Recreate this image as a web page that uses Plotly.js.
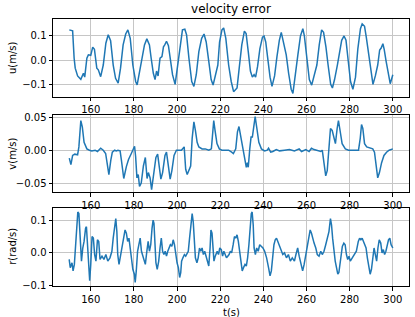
<!DOCTYPE html>
<html>
<head>
<meta charset="utf-8">
<script src="https://cdn.plot.ly/plotly-3.0.1.min.js"></script>
<style>html,body{margin:0;padding:0;background:#fff;}#chart{width:415px;height:317px;}</style>
</head>
<body>
<div id="chart"></div>
<script>
// u(m/s)
const uT = [150.05,151.6,152.3,152.8,153.9,155.4,156.6,157.2,158.2,158.9,160,160.9,161.7,162.8,163.5,164.6,165.8,167,168.1,169.2,170.4,171.5,172.7,173.8,175,176.2,177.2,178.3,179.5,180.8,181.5,182.6,183.8,184.9,186,187.2,188,189,189.8,190.5,191.2,192.1,193,193.7,194.3,195.1,196,196.8,197.9,199.1,200.2,201.3,202.5,203.6,204.4,205.5,206.8,207.8,208.9,210.1,211.4,212.5,213.5,214.7,215.8,216.7,217.8,218.9,219.7,220.8,221.6,222.6,223.9,225.1,226.2,226.9,227.8,228.8,230,231.2,232,233,234,234.9,235.7,236.4,237.3,238.4,239.6,240.3,241.1,242.2,243.1,244,245.2,246.3,247.4,248.3,249.2,250.6,251.7,252.9,253.7,254.7,256,257.2,258.3,259,260.1,261.3,262.4,263.6,264.8,265.9,267,267.9,269,270,271.2,272,273,274.3,275.5,276.3,277.4,278.3,279.2,280.4,281.5,282.7,283.8,285,285.8,286.9,287.7,288.8,289.9,290.8,291.9,293,293.9,294.6,295.4,296,296.9,297.9,298.8,300];
const uV = [0.125,0.121,0.008,-0.033,-0.065,-0.079,-0.054,-0.07,0.008,0.022,0.02,0.054,0.045,-0.033,-0.04,-0.068,-0.02,0.07,0.105,0.08,-0.02,-0.075,-0.095,-0.033,0.063,0.108,0.125,0.09,-0.02,-0.088,-0.102,-0.045,0.008,0.063,0.088,0.063,0.008,-0.054,-0.08,-0.045,-0.065,0.008,0.015,0.055,0.063,0.078,0.06,0.008,-0.06,-0.1,-0.02,0.063,0.125,0.128,0.105,0.008,-0.088,-0.108,-0.06,0.035,0.09,0.108,0.075,-0.005,-0.08,-0.103,-0.06,-0.02,0.075,0.125,0.133,0.09,-0.02,-0.088,-0.13,-0.125,-0.115,-0.033,0.063,0.12,0.11,0.035,-0.045,-0.07,-0.06,-0.07,-0.027,0.048,0.095,0.1,0.075,-0.005,-0.07,-0.108,-0.065,0.015,0.082,0.115,0.082,0.022,-0.054,-0.12,-0.137,-0.06,0.022,0.1,0.13,0.1,0.008,-0.08,-0.103,-0.065,-0.02,0.063,0.125,0.115,0.055,-0.02,-0.1,-0.115,-0.08,-0.02,0.048,0.082,0.1,0.082,0.008,-0.088,-0.12,-0.07,0.048,0.13,0.15,0.14,0.095,0.022,-0.06,-0.1,-0.065,-0.02,0.042,0.05,0.068,0.045,-0.005,-0.06,-0.097,-0.06];

// v(m/s)
const vT = [150.05,150.8,151.6,152.6,153.9,154.5,155.4,156.1,156.9,158.2,159.4,160.5,162,163.1,164.6,165.8,166.9,167.6,168.4,169.3,170,171.1,171.8,172.6,173.6,174.2,175.3,176.5,177.5,178.8,179.9,180.3,180.8,181.4,182,182.6,183.4,184.4,185.3,186.1,186.7,187.5,188.2,189.2,190.2,191,191.8,192.5,193.3,194.4,195.1,196,196.8,197.6,198.6,199.7,200.9,202,203.3,204,204.7,205.5,206.3,207,207.8,208.5,209.3,210.1,211.6,213.1,214.7,215.9,216.5,217,217.7,218.5,219.6,220.8,222.3,223.9,225.3,226.1,227.2,228,228.7,229.3,230,230.7,231.5,232.1,232.6,233,233.7,234.3,234.9,235.5,236.2,237,237.9,239.1,240.6,241.8,242.4,243.4,244.4,246,247.5,249.8,252.1,254.4,256.6,257.7,259.7,261.2,262.3,263.5,265,266.6,267.3,267.8,268.9,269.6,270.4,271.1,271.9,272.7,273.4,274.2,274.8,275.4,276.5,278,279.5,281.8,284.1,284.9,285.5,286.1,286.9,287.9,289.5,290.7,291.5,292.2,293,293.8,294.8,295.9,297.1,298.3,299.4,300];
const vV = [-0.012,-0.022,-0.008,-0.006,-0.007,0.005,0.045,0.035,0.012,0.002,0,-0.001,0,-0.002,0.003,0,-0.005,-0.021,-0.037,-0.015,-0.003,0,-0.001,0,-0.001,-0.015,-0.043,-0.025,-0.014,-0.005,0.005,0.006,-0.01,-0.042,-0.037,-0.055,-0.05,-0.024,-0.011,-0.043,-0.034,-0.042,-0.06,-0.034,-0.011,-0.006,-0.029,-0.044,-0.034,-0.008,-0.003,-0.026,-0.044,-0.031,-0.008,0,0,0,0.005,-0.029,-0.037,-0.031,-0.024,0.018,0.043,0.03,0.012,0.005,0.002,0.002,0,0.002,0.028,0.045,0.028,0.01,0.002,0,0,0,-0.003,-0.005,0.002,0.028,0.036,0.025,0.018,0.005,-0.013,-0.026,-0.019,-0.026,0.002,0.02,0.02,0.038,0.051,0.033,0.012,0.002,-0.001,0,0.003,-0.003,-0.002,0.001,-0.001,0,0.001,-0.001,0.002,-0.002,0.001,-0.002,0.003,0.001,0,-0.002,0,-0.013,-0.039,-0.031,0.007,0.033,0.03,0.018,0.01,0.033,0.045,0.033,0.01,0.002,0,0,0,0.018,0.039,0.033,0.01,0.005,0.003,0.002,-0.003,-0.021,-0.042,-0.034,-0.019,-0.008,-0.003,0,0.002,0.002];

// r(rad/s)
const rT = [150,150.5,151.3,151.8,152.4,153.3,154,154.5,155.1,155.7,156.3,156.9,157.6,158,158.5,159.1,159.5,160,160.6,161.2,161.8,162.4,163.1,163.7,164.3,165.2,166.1,167,167.9,168.9,169.8,170.4,171,171.6,172.1,172.5,173.1,173.9,174.7,175.3,175.9,176.5,177.1,177.7,178.3,178.9,179.5,180.2,180.6,181.1,181.7,182.3,182.9,183.5,184.1,184.7,185.3,186,186.6,187.2,187.8,188.4,188.9,189.3,189.8,190.2,190.8,191.5,192.1,192.7,193.3,193.9,194.5,195.1,195.7,196.3,196.9,197.6,198.2,198.8,199.4,200,200.6,201.2,201.7,202.1,202.7,203.4,204,204.6,205.2,205.8,206.4,207,207.5,207.9,208.5,209.2,209.8,210.4,211,211.6,212.2,212.8,213.4,214,214.7,215.3,215.7,216.2,216.6,217.1,217.7,218.6,219.2,219.8,220.5,221.1,221.7,222.3,222.9,223.5,224.1,224.7,225.3,226,226.6,227.2,227.8,228.4,229,229.6,230.2,230.8,231.5,232.1,232.7,233.3,233.9,234.4,234.8,235.3,235.7,236.3,236.9,237.6,238.3,239.1,239.8,240.6,241.5,242.4,243.1,243.7,244.3,244.9,245.5,246.1,246.7,247.5,248.2,249,249.8,250.7,251.6,252.5,253.4,254.4,255.1,255.9,256.6,257.4,258.2,258.9,259.7,260.5,261.1,261.7,262.3,262.9,263.5,264.3,265,265.8,266.6,267.3,268.1,268.9,269.6,270.4,271.1,271.6,272.1,272.7,273.3,273.9,274.5,275,275.4,276,276.6,277.3,277.9,278.5,279.1,279.7,280.3,281.2,282.1,283.1,284,284.6,285.2,285.8,286.4,287,287.6,288.2,288.9,289.5,290.1,290.7,291.3,291.9,292.5,293.1,293.7,294.4,295,295.6,296.2,296.8,297.4,298,298.6,299.2,300];
const rV = [-0.02,-0.045,-0.03,-0.055,-0.035,0.045,0.125,0.12,0.045,-0.025,0.015,0.035,0.075,0.08,0.025,-0.055,-0.085,-0.035,0.05,0.045,-0.005,-0.025,0.04,0.035,-0.02,-0.01,-0.02,-0.005,-0.025,-0.015,0.005,0.045,0.085,0.105,0.065,-0.005,-0.035,-0.005,0.025,0.06,0.07,0.06,0.035,0.045,0.015,-0.025,-0.05,-0.065,-0.09,-0.055,0.005,0.025,0.045,0.005,-0.01,-0.025,-0.035,0.005,0.035,0.005,0.025,0.075,0.1,0.09,0.025,-0.03,-0.05,-0.025,0.015,0.045,0.005,-0.005,0.005,-0.01,0.005,0.015,0.025,0.02,0.04,0.025,-0.005,-0.03,-0.045,-0.075,-0.06,-0.025,-0.015,-0.005,-0.01,0,0.005,0.045,0.085,0.12,0.095,0.035,-0.015,-0.03,-0.015,0.015,0.005,0.015,-0.005,0.005,-0.01,-0.025,-0.04,0.015,0.07,0.06,0.005,-0.025,-0.01,0.005,-0.005,0.015,0.01,-0.01,0.005,-0.005,-0.015,-0.01,-0.005,0.005,0,0.025,0.05,0.045,0.055,0.035,0.005,-0.03,-0.055,-0.045,-0.035,-0.04,-0.015,0.025,0.095,0.12,0.125,0.085,0.015,-0.005,0.015,0.005,0.025,0.02,0.015,0.005,-0.015,-0.045,-0.07,-0.055,-0.015,0.025,0.04,0.045,0.035,0.02,0.005,-0.005,0,-0.015,-0.005,-0.025,-0.015,-0.025,-0.005,0.015,-0.01,-0.03,-0.055,-0.035,-0.005,0.025,0.05,0.07,0.06,0.04,0.03,0.015,-0.005,-0.01,0.005,-0.005,0.005,0.025,0.045,0.065,0.105,0.085,0.045,0.005,-0.025,-0.045,-0.065,-0.06,-0.035,-0.005,0.02,0.03,0.025,-0.005,-0.02,-0.01,-0.025,-0.015,-0.005,0.005,0.035,0.045,0.04,0.045,0.035,0.025,0.015,-0.015,-0.045,-0.065,-0.05,-0.015,0.015,-0.005,-0.025,0.015,0.04,0.03,0,0.01,-0.005,0.005,0.02,0.04,0.045,0.025,0.015];

const xTicks = [160,180,200,220,240,260,280,300];
const titleText = 'velocity error';
const yTitles = ['u(m/s)','v(m/s)','r(rad/s)'];
const xTitle = 't(s)';

const FONT = 'DejaVu Sans, sans-serif';
const lineStyle = {color:'#1f77b4', width:1.5};

const traces = [
  {x:uT, y:uV, type:'scatter', mode:'lines', line:lineStyle, xaxis:'x', yaxis:'y'},
  {x:vT, y:vV, type:'scatter', mode:'lines', line:lineStyle, xaxis:'x2', yaxis:'y2'},
  {x:rT, y:rV, type:'scatter', mode:'lines', line:lineStyle, xaxis:'x3', yaxis:'y3'}
];

function xax(anchor){
  return {anchor:anchor, domain:[0,1], range:[142.5,307.5], tickvals:xTicks, ticktext:xTicks.map(String),
    showgrid:true, gridcolor:'#c6c6c6', gridwidth:1, zeroline:false,
    showline:true, mirror:true, linecolor:'#000', linewidth:1,
    ticks:'outside', ticklen:3.5, tickwidth:1, tickcolor:'#000',
    tickfont:{family:FONT, size:10, color:'#000'}, fixedrange:true};
}
function yax(anchor, dom, rng, vals, fmt){
  return {anchor:anchor, domain:dom, range:rng, tickvals:vals, tickformat:fmt,
    showgrid:true, gridcolor:'#c6c6c6', gridwidth:1, zeroline:false,
    showline:true, mirror:true, linecolor:'#000', linewidth:1,
    ticks:'outside', ticklen:3.5, tickwidth:1, tickcolor:'#000',
    tickfont:{family:FONT, size:10, color:'#000'}, fixedrange:true};
}

const d1=[0.7079,1], d2=[0.3509,0.6404], d3=[0,0.2933];
const layout = {
  width:415, height:317,
  margin:{l:53, r:6, t:19, b:31, pad:0},
  paper_bgcolor:'#fff', plot_bgcolor:'#fff',
  showlegend:false,
  font:{family:FONT, size:10, color:'#000'},
  title:{text:titleText, x:0.5, xref:'paper', xanchor:'center', y:1-9/317, yref:'container', yanchor:'middle', font:{family:FONT, size:12, color:'#000'}},
  xaxis: xax('y'),
  yaxis: yax('x', d1, [-0.152,0.170], [-0.1,0,0.1], '.1f'),
  xaxis2: xax('y2'),
  yaxis2: yax('x2', d2, [-0.064,0.0535], [-0.05,0,0.05], '.2f'),
  xaxis3: xax('y3'),
  yaxis3: yax('x3', d3, [-0.101,0.138], [-0.1,0,0.1], '.1f'),
  annotations:[
    {text:yTitles[0], xref:'paper', yref:'paper', x:(13-53)/356, y:(d1[0]+d1[1])/2, textangle:-90, showarrow:false, xanchor:'center', yanchor:'middle', font:{family:FONT,size:10,color:'#000'}},
    {text:yTitles[1], xref:'paper', yref:'paper', x:(13-53)/356, y:(d2[0]+d2[1])/2, textangle:-90, showarrow:false, xanchor:'center', yanchor:'middle', font:{family:FONT,size:10,color:'#000'}},
    {text:yTitles[2], xref:'paper', yref:'paper', x:(13-53)/356, y:(d3[0]+d3[1])/2, textangle:-90, showarrow:false, xanchor:'center', yanchor:'middle', font:{family:FONT,size:10,color:'#000'}},
    {text:xTitle, xref:'paper', yref:'paper', x:0.5, y:(286-312)/267, showarrow:false, xanchor:'center', yanchor:'middle', font:{family:FONT,size:10,color:'#000'}}
  ]
};

Plotly.newPlot('chart', traces, layout, {displayModeBar:false, staticPlot:true});
</script>
</body>
</html>
